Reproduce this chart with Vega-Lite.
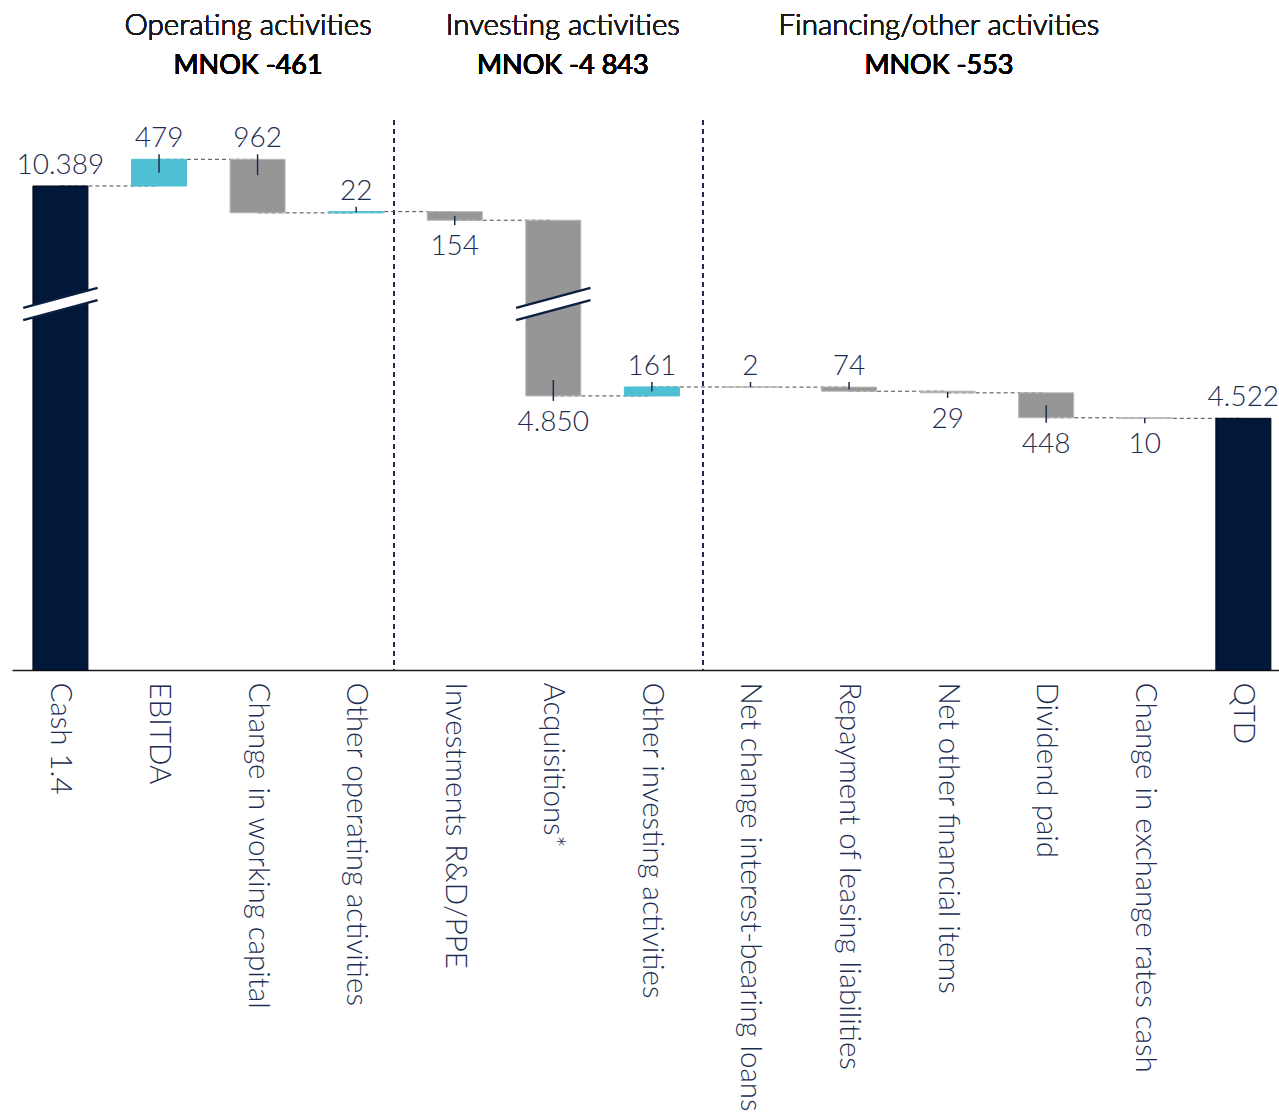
{
  "$schema": "https://vega.github.io/schema/vega-lite/v6.json",
  "width": 1267,
  "height": 670,
  "autosize": {"type": "none"},
  "padding": {"left": 12, "top": 0, "right": 0, "bottom": 447},
  "background": "white",
  "config": {"view": {"stroke": null}, "font": "Lato"},
  "data": {
    "values": [
      {"step": "Cash 1.4", "amount": 10389, "kind": "total"},
      {"step": "EBITDA", "amount": 479, "kind": "in"},
      {"step": "Change in working capital", "amount": -962, "kind": "out"},
      {"step": "Other operating activities", "amount": 22, "kind": "in"},
      {"step": "Investments R&D/PPE", "amount": -154, "kind": "out"},
      {"step": "Acquisitions*", "amount": -4850, "kind": "out"},
      {"step": "Other investing activities", "amount": 161, "kind": "in"},
      {"step": "Net change interest-bearing loans", "amount": -2, "kind": "out"},
      {"step": "Repayment of leasing liabilities", "amount": -74, "kind": "out"},
      {"step": "Net other financial items", "amount": -29, "kind": "out"},
      {"step": "Dividend paid", "amount": -448, "kind": "out"},
      {"step": "Change in exchange rates cash", "amount": -10, "kind": "out"},
      {"step": "QTD", "amount": 4522, "kind": "total"}
    ]
  },
  "transform": [
    {"calculate": "datum.step === 'QTD' ? 0 : datum.amount", "as": "delta"},
    {"window": [
      {"op": "sum", "field": "delta", "as": "cum"},
      {"op": "lead", "field": "step", "as": "next"}
    ]},
    {"calculate": "datum.kind === 'total' ? 0 : datum.cum - datum.delta", "as": "y0"},
    {"calculate": "datum.step === 'QTD' ? datum.amount : datum.cum", "as": "y1"},
    {"calculate": "max(datum.y0, datum.y1)", "as": "hi"},
    {"calculate": "min(datum.y0, datum.y1)", "as": "lo"},
    {"calculate": "min((datum.hi - datum.lo) / 2, 285)", "as": "inset"},
    {"calculate": "replace(format(abs(datum.amount), ','), ',', '.')", "as": "label"}
  ],
  "encoding": {
    "x": {
      "field": "step",
      "type": "nominal",
      "sort": null,
      "scale": {
        "domain": ["Cash 1.4", "EBITDA", "Change in working capital", "Other operating activities", "Investments R&D/PPE", "Acquisitions*", "Other investing activities", "Net change interest-bearing loans", "Repayment of leasing liabilities", "Net other financial items", "Dividend paid", "Change in exchange rates cash", "QTD"],
        "paddingInner": 0.442,
        "paddingOuter": 0.1474,
        "align": 0.72
      },
      "axis": {
        "title": null,
        "labelAngle": 90,
        "labelAlign": "left",
        "labelBaseline": "middle",
        "labelPadding": 12,
        "labelFontSize": 29.5,
        "labelFont": "Lato",
        "labelFontWeight": 300,
        "labelColor": "#1c2d52",
        "labelLimit": 0,
        "labelOverlap": false,
        "ticks": false,
        "domainColor": "#1a1a1a",
        "domainWidth": 1.5
      }
    }
  },
  "layer": [
    {
      "mark": {"type": "rule", "color": "#1f2d50", "strokeWidth": 1.3, "strokeDash": [5, 4]},
      "encoding": {
        "x": {"datum": "Investments R&D/PPE", "bandPosition": -0.6},
        "y": {"datum": 11574, "type": "quantitative", "scale": {"domain": [0, 6576, 8269, 13730], "range": [670, 304, 304, 0], "zero": false, "nice": false}, "axis": null},
        "y2": {"datum": 0}
      }
    },
    {
      "mark": {"type": "rule", "color": "#1f2d50", "strokeWidth": 1.3, "strokeDash": [5, 4]},
      "encoding": {
        "x": {"datum": "Net change interest-bearing loans", "bandPosition": -0.364},
        "y": {"datum": 11574, "type": "quantitative"},
        "y2": {"datum": 0}
      }
    },
    {
      "transform": [{"filter": "datum.next != null"}],
      "mark": {"type": "rule", "color": "#4a4a4a", "strokeWidth": 1, "strokeDash": [4, 3]},
      "encoding": {
        "x2": {"field": "next"},
        "y": {"field": "y1", "type": "quantitative"}
      }
    },
    {
      "mark": {"type": "bar", "strokeWidth": 1},
      "encoding": {
        "y": {"field": "y0", "type": "quantitative"},
        "y2": {"field": "y1"},
        "fill": {"field": "kind", "type": "nominal", "scale": {"domain": ["total", "in", "out"], "range": ["#01183a", "#4fbfd3", "#969696"]}, "legend": null},
        "stroke": {"field": "kind", "type": "nominal", "scale": {"domain": ["total", "in", "out"], "range": ["#000814", "#4fbfd3", "#b8b8b8"]}, "legend": null}
      }
    },
    {
      "transform": [{"filter": "datum.hi > 8269 && datum.lo < 6576"}],
      "mark": {"type": "point", "shape": "M -1 0.1035 L 1 -0.434 L 1 -0.1035 L -1 0.434 Z", "filled": true, "fill": "white", "strokeWidth": 0, "opacity": 1, "size": 5535},
      "encoding": {
        "y": {"datum": 7400, "type": "quantitative"}
      }
    },
    {
      "transform": [{"filter": "datum.hi > 8269 && datum.lo < 6576"}],
      "mark": {"type": "point", "shape": "M -1 0.1035 L 1 -0.434 M -1 0.434 L 1 -0.1035", "filled": false, "stroke": "#0b1f40", "strokeWidth": 2.5, "opacity": 1, "size": 5535},
      "encoding": {
        "y": {"datum": 7400, "type": "quantitative"}
      }
    },
    {
      "transform": [
        {"filter": {"field": "step", "oneOf": ["EBITDA", "Change in working capital", "Other operating activities", "Other investing activities", "Net change interest-bearing loans", "Repayment of leasing liabilities"]}},
        {"calculate": "datum.hi - datum.inset", "as": "tip"}
      ],
      "mark": {"type": "rule", "color": "#1d2c4c", "strokeWidth": 1.5, "yOffset": -5},
      "encoding": {
        "y": {"field": "hi", "type": "quantitative"},
        "y2": {"field": "tip"}
      }
    },
    {
      "transform": [
        {"filter": {"field": "step", "oneOf": ["Investments R&D/PPE", "Acquisitions*", "Net other financial items", "Dividend paid", "Change in exchange rates cash"]}},
        {"calculate": "datum.lo + datum.inset", "as": "tip"}
      ],
      "mark": {"type": "rule", "color": "#1d2c4c", "strokeWidth": 1.5, "yOffset": 5},
      "encoding": {
        "y": {"field": "lo", "type": "quantitative"},
        "y2": {"field": "tip"}
      }
    },
    {
      "transform": [
        {"filter": {"field": "step", "oneOf": ["Cash 1.4", "EBITDA", "Change in working capital", "Other operating activities", "Other investing activities", "Net change interest-bearing loans", "Repayment of leasing liabilities", "QTD"]}}
      ],
      "mark": {"type": "text", "font": "Lato", "fontWeight": 300, "fontSize": 28, "color": "#1c2d52", "baseline": "alphabetic", "dy": -12},
      "encoding": {
        "y": {"field": "hi", "type": "quantitative"},
        "text": {"field": "label"}
      }
    },
    {
      "transform": [
        {"filter": {"field": "step", "oneOf": ["Investments R&D/PPE", "Acquisitions*", "Net other financial items", "Dividend paid", "Change in exchange rates cash"]}}
      ],
      "mark": {"type": "text", "font": "Lato", "fontWeight": 300, "fontSize": 28, "color": "#1c2d52", "baseline": "alphabetic", "dy": 35},
      "encoding": {
        "y": {"field": "lo", "type": "quantitative"},
        "text": {"field": "label"}
      }
    },
    {
      "mark": {"type": "text", "font": "Lato", "fontWeight": 300, "fontSize": 29.5, "color": "#1a1a1a", "baseline": "alphabetic", "xOffset": -9.5},
      "encoding": {
        "x": {"datum": "Change in working capital"},
        "y": {"datum": 13101, "type": "quantitative"},
        "text": {"datum": "Operating activities"}
      }
    },
    {
      "mark": {"type": "text", "font": "Lato", "fontWeight": 400, "fontSize": 27, "color": "#000000", "baseline": "alphabetic", "xOffset": -9.5},
      "encoding": {
        "x": {"datum": "Change in working capital"},
        "y": {"datum": 12400, "type": "quantitative"},
        "text": {"datum": "MNOK -461"}
      }
    },
    {
      "mark": {"type": "text", "font": "Lato", "fontWeight": 300, "fontSize": 29.5, "color": "#1a1a1a", "baseline": "alphabetic", "xOffset": 9.5},
      "encoding": {
        "x": {"datum": "Acquisitions*"},
        "y": {"datum": 13101, "type": "quantitative"},
        "text": {"datum": "Investing activities"}
      }
    },
    {
      "mark": {"type": "text", "font": "Lato", "fontWeight": 400, "fontSize": 27, "color": "#000000", "baseline": "alphabetic", "xOffset": 9.5},
      "encoding": {
        "x": {"datum": "Acquisitions*"},
        "y": {"datum": 12400, "type": "quantitative"},
        "text": {"datum": "MNOK -4 843"}
      }
    },
    {
      "mark": {"type": "text", "font": "Lato", "fontWeight": 300, "fontSize": 29.5, "color": "#1a1a1a", "baseline": "alphabetic", "xOffset": -8.7},
      "encoding": {
        "x": {"datum": "Net other financial items"},
        "y": {"datum": 13101, "type": "quantitative"},
        "text": {"datum": "Financing/other activities"}
      }
    },
    {
      "mark": {"type": "text", "font": "Lato", "fontWeight": 400, "fontSize": 27, "color": "#000000", "baseline": "alphabetic", "xOffset": -8.7},
      "encoding": {
        "x": {"datum": "Net other financial items"},
        "y": {"datum": 12400, "type": "quantitative"},
        "text": {"datum": "MNOK -553"}
      }
    }
  ]
}
